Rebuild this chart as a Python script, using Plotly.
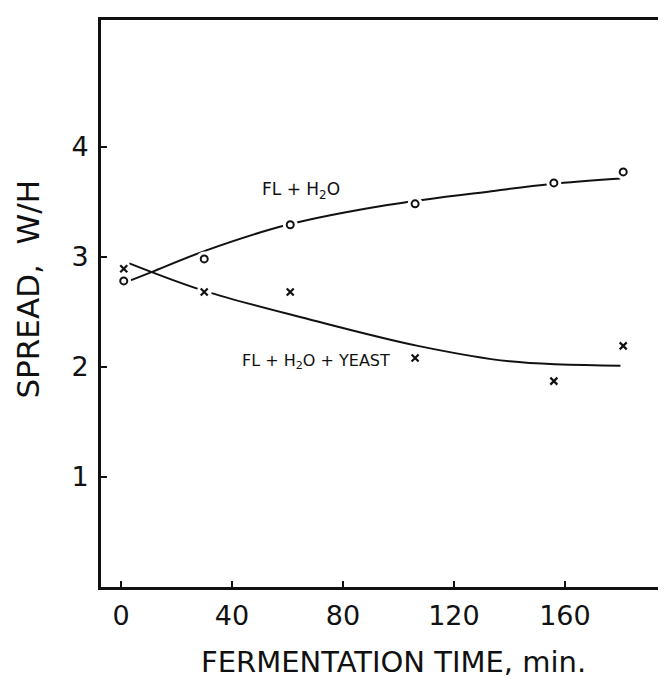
import plotly.graph_objects as go

# Measured points
time_water = [1, 30, 61, 106, 156, 181]
spread_water = [2.78, 2.98, 3.29, 3.48, 3.67, 3.77]
time_yeast = [1, 30, 61, 106, 156, 181]
spread_yeast = [2.89, 2.68, 2.68, 2.08, 1.87, 2.19]

# Hand-drawn fit curves
fit_water_x = [3, 11, 31, 60, 96, 135, 155, 180]
fit_water_y = [2.78, 2.86, 3.06, 3.29, 3.47, 3.60, 3.66, 3.71]
fit_yeast_x = [3, 30, 68, 107, 140, 180]
fit_yeast_y = [2.94, 2.69, 2.43, 2.19, 2.05, 2.01]

x_ticks = [0, 40, 80, 120, 160]
y_ticks = [1, 2, 3, 4]

FONT = "DejaVu Sans"
INK = "#111111"

fig = go.Figure()
for fx, fy in [(fit_water_x, fit_water_y), (fit_yeast_x, fit_yeast_y)]:
    fig.add_trace(go.Scatter(x=fx, y=fy, mode="lines",
                             line=dict(color=INK, width=2, shape="spline", smoothing=1),
                             hoverinfo="skip", showlegend=False))
# white halos around the marks
for tx, ty in [(time_water, spread_water), (time_yeast, spread_yeast)]:
    fig.add_trace(go.Scatter(x=tx, y=ty, mode="markers",
                             marker=dict(symbol="circle", size=15, color="white", line=dict(width=0)),
                             hoverinfo="skip", showlegend=False))
fig.add_trace(go.Scatter(x=time_water, y=spread_water, mode="markers",
                         marker=dict(symbol="circle-open", size=7, color=INK, line=dict(width=2)),
                         name="FL + H2O", showlegend=False))
fig.add_trace(go.Scatter(x=time_yeast, y=spread_yeast, mode="markers",
                         marker=dict(symbol="x-thin-open", size=7, color=INK, line=dict(width=2.2)),
                         name="FL + H2O + YEAST", showlegend=False))

fig.add_annotation(x=65, y=3.6, xref="x", yref="y", text="FL + H<sub>2</sub>O",
                   xanchor="center", yanchor="middle",
                   showarrow=False, font=dict(family=FONT, size=17, color=INK))
fig.add_annotation(x=70.3, y=2.05, xref="x", yref="y", text="FL + H<sub>2</sub>O + YEAST",
                   xanchor="center", yanchor="middle",
                   showarrow=False, font=dict(family=FONT, size=16, color=INK))

fig.add_annotation(x=0.51, y=-0.133, xref="paper", yref="paper",
                   xanchor="center", yanchor="middle",
                   text="FERMENTATION TIME, min.", showarrow=False,
                   font=dict(family=FONT, size=29, color=INK))
fig.add_annotation(x=-0.127, y=0.525, xref="paper", yref="paper",
                   xanchor="center", yanchor="middle",
                   text="SPREAD,  W/H", showarrow=False, textangle=-90,
                   font=dict(family=FONT, size=31, color=INK))

fig.update_xaxes(range=[-7.2, 199.3], tickvals=x_ticks, ticktext=[str(v) for v in x_ticks],
                 showline=True, linecolor=INK, linewidth=3, mirror=True,
                 ticks="inside", ticklen=6, tickwidth=2, tickcolor=INK,
                 ticklabelstandoff=3,
                 showgrid=False, zeroline=False,
                 tickfont=dict(family=FONT, size=27, color=INK))
fig.update_yaxes(range=[0, 5.15], tickvals=y_ticks, ticktext=[str(v) for v in y_ticks],
                 showline=True, linecolor=INK, linewidth=3,
                 ticks="inside", ticklen=6, tickwidth=2, tickcolor=INK,
                 ticklabelstandoff=4,
                 showgrid=False, zeroline=False,
                 tickfont=dict(family=FONT, size=27, color=INK))

fig.update_layout(width=666, height=681, margin=dict(l=93, r=0, t=12, b=102),
                  paper_bgcolor="white", plot_bgcolor="white")

fig.write_html("out.html")
